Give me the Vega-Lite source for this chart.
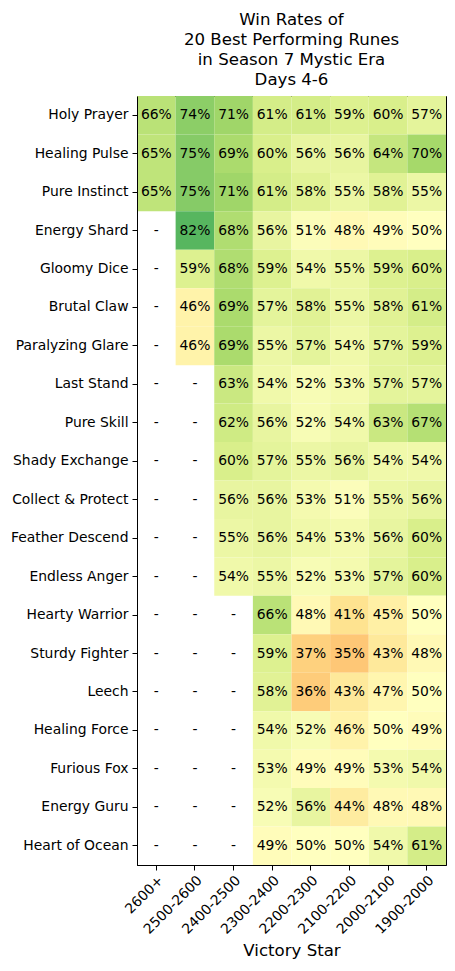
{
  "$schema": "https://vega.github.io/schema/vega-lite/v6.json",
  "autosize": {"type": "none"},
  "width": 309,
  "height": 769,
  "padding": {"left": 137, "top": 96, "right": 9, "bottom": 106},
  "background": "white",
  "title": {
    "text": ["Win Rates of", "20 Best Performing Runes", "in Season 7 Mystic Era", "Days 4-6"],
    "font": "DejaVu Sans",
    "fontSize": 16.6,
    "fontWeight": "normal",
    "lineHeight": 20.3,
    "color": "black",
    "anchor": "middle",
    "offset": 7
  },
  "data": {
    "values": [
      {"rune":"Holy Prayer","star":"2600+","v":0.66},{"rune":"Holy Prayer","star":"2500-2600","v":0.74},{"rune":"Holy Prayer","star":"2400-2500","v":0.71},{"rune":"Holy Prayer","star":"2300-2400","v":0.61},{"rune":"Holy Prayer","star":"2200-2300","v":0.61},{"rune":"Holy Prayer","star":"2100-2200","v":0.59},{"rune":"Holy Prayer","star":"2000-2100","v":0.60},{"rune":"Holy Prayer","star":"1900-2000","v":0.57},
      {"rune":"Healing Pulse","star":"2600+","v":0.65},{"rune":"Healing Pulse","star":"2500-2600","v":0.75},{"rune":"Healing Pulse","star":"2400-2500","v":0.69},{"rune":"Healing Pulse","star":"2300-2400","v":0.60},{"rune":"Healing Pulse","star":"2200-2300","v":0.56},{"rune":"Healing Pulse","star":"2100-2200","v":0.56},{"rune":"Healing Pulse","star":"2000-2100","v":0.64},{"rune":"Healing Pulse","star":"1900-2000","v":0.70},
      {"rune":"Pure Instinct","star":"2600+","v":0.65},{"rune":"Pure Instinct","star":"2500-2600","v":0.75},{"rune":"Pure Instinct","star":"2400-2500","v":0.71},{"rune":"Pure Instinct","star":"2300-2400","v":0.61},{"rune":"Pure Instinct","star":"2200-2300","v":0.58},{"rune":"Pure Instinct","star":"2100-2200","v":0.55},{"rune":"Pure Instinct","star":"2000-2100","v":0.58},{"rune":"Pure Instinct","star":"1900-2000","v":0.55},
      {"rune":"Energy Shard","star":"2600+","v":null},{"rune":"Energy Shard","star":"2500-2600","v":0.82},{"rune":"Energy Shard","star":"2400-2500","v":0.68},{"rune":"Energy Shard","star":"2300-2400","v":0.56},{"rune":"Energy Shard","star":"2200-2300","v":0.51},{"rune":"Energy Shard","star":"2100-2200","v":0.48},{"rune":"Energy Shard","star":"2000-2100","v":0.49},{"rune":"Energy Shard","star":"1900-2000","v":0.50},
      {"rune":"Gloomy Dice","star":"2600+","v":null},{"rune":"Gloomy Dice","star":"2500-2600","v":0.59},{"rune":"Gloomy Dice","star":"2400-2500","v":0.68},{"rune":"Gloomy Dice","star":"2300-2400","v":0.59},{"rune":"Gloomy Dice","star":"2200-2300","v":0.54},{"rune":"Gloomy Dice","star":"2100-2200","v":0.55},{"rune":"Gloomy Dice","star":"2000-2100","v":0.59},{"rune":"Gloomy Dice","star":"1900-2000","v":0.60},
      {"rune":"Brutal Claw","star":"2600+","v":null},{"rune":"Brutal Claw","star":"2500-2600","v":0.46},{"rune":"Brutal Claw","star":"2400-2500","v":0.69},{"rune":"Brutal Claw","star":"2300-2400","v":0.57},{"rune":"Brutal Claw","star":"2200-2300","v":0.58},{"rune":"Brutal Claw","star":"2100-2200","v":0.55},{"rune":"Brutal Claw","star":"2000-2100","v":0.58},{"rune":"Brutal Claw","star":"1900-2000","v":0.61},
      {"rune":"Paralyzing Glare","star":"2600+","v":null},{"rune":"Paralyzing Glare","star":"2500-2600","v":0.46},{"rune":"Paralyzing Glare","star":"2400-2500","v":0.69},{"rune":"Paralyzing Glare","star":"2300-2400","v":0.55},{"rune":"Paralyzing Glare","star":"2200-2300","v":0.57},{"rune":"Paralyzing Glare","star":"2100-2200","v":0.54},{"rune":"Paralyzing Glare","star":"2000-2100","v":0.57},{"rune":"Paralyzing Glare","star":"1900-2000","v":0.59},
      {"rune":"Last Stand","star":"2600+","v":null},{"rune":"Last Stand","star":"2500-2600","v":null},{"rune":"Last Stand","star":"2400-2500","v":0.63},{"rune":"Last Stand","star":"2300-2400","v":0.54},{"rune":"Last Stand","star":"2200-2300","v":0.52},{"rune":"Last Stand","star":"2100-2200","v":0.53},{"rune":"Last Stand","star":"2000-2100","v":0.57},{"rune":"Last Stand","star":"1900-2000","v":0.57},
      {"rune":"Pure Skill","star":"2600+","v":null},{"rune":"Pure Skill","star":"2500-2600","v":null},{"rune":"Pure Skill","star":"2400-2500","v":0.62},{"rune":"Pure Skill","star":"2300-2400","v":0.56},{"rune":"Pure Skill","star":"2200-2300","v":0.52},{"rune":"Pure Skill","star":"2100-2200","v":0.54},{"rune":"Pure Skill","star":"2000-2100","v":0.63},{"rune":"Pure Skill","star":"1900-2000","v":0.67},
      {"rune":"Shady Exchange","star":"2600+","v":null},{"rune":"Shady Exchange","star":"2500-2600","v":null},{"rune":"Shady Exchange","star":"2400-2500","v":0.60},{"rune":"Shady Exchange","star":"2300-2400","v":0.57},{"rune":"Shady Exchange","star":"2200-2300","v":0.55},{"rune":"Shady Exchange","star":"2100-2200","v":0.56},{"rune":"Shady Exchange","star":"2000-2100","v":0.54},{"rune":"Shady Exchange","star":"1900-2000","v":0.54},
      {"rune":"Collect & Protect","star":"2600+","v":null},{"rune":"Collect & Protect","star":"2500-2600","v":null},{"rune":"Collect & Protect","star":"2400-2500","v":0.56},{"rune":"Collect & Protect","star":"2300-2400","v":0.56},{"rune":"Collect & Protect","star":"2200-2300","v":0.53},{"rune":"Collect & Protect","star":"2100-2200","v":0.51},{"rune":"Collect & Protect","star":"2000-2100","v":0.55},{"rune":"Collect & Protect","star":"1900-2000","v":0.56},
      {"rune":"Feather Descend","star":"2600+","v":null},{"rune":"Feather Descend","star":"2500-2600","v":null},{"rune":"Feather Descend","star":"2400-2500","v":0.55},{"rune":"Feather Descend","star":"2300-2400","v":0.56},{"rune":"Feather Descend","star":"2200-2300","v":0.54},{"rune":"Feather Descend","star":"2100-2200","v":0.53},{"rune":"Feather Descend","star":"2000-2100","v":0.56},{"rune":"Feather Descend","star":"1900-2000","v":0.60},
      {"rune":"Endless Anger","star":"2600+","v":null},{"rune":"Endless Anger","star":"2500-2600","v":null},{"rune":"Endless Anger","star":"2400-2500","v":0.54},{"rune":"Endless Anger","star":"2300-2400","v":0.55},{"rune":"Endless Anger","star":"2200-2300","v":0.52},{"rune":"Endless Anger","star":"2100-2200","v":0.53},{"rune":"Endless Anger","star":"2000-2100","v":0.57},{"rune":"Endless Anger","star":"1900-2000","v":0.60},
      {"rune":"Hearty Warrior","star":"2600+","v":null},{"rune":"Hearty Warrior","star":"2500-2600","v":null},{"rune":"Hearty Warrior","star":"2400-2500","v":null},{"rune":"Hearty Warrior","star":"2300-2400","v":0.66},{"rune":"Hearty Warrior","star":"2200-2300","v":0.48},{"rune":"Hearty Warrior","star":"2100-2200","v":0.41},{"rune":"Hearty Warrior","star":"2000-2100","v":0.45},{"rune":"Hearty Warrior","star":"1900-2000","v":0.50},
      {"rune":"Sturdy Fighter","star":"2600+","v":null},{"rune":"Sturdy Fighter","star":"2500-2600","v":null},{"rune":"Sturdy Fighter","star":"2400-2500","v":null},{"rune":"Sturdy Fighter","star":"2300-2400","v":0.59},{"rune":"Sturdy Fighter","star":"2200-2300","v":0.37},{"rune":"Sturdy Fighter","star":"2100-2200","v":0.35},{"rune":"Sturdy Fighter","star":"2000-2100","v":0.43},{"rune":"Sturdy Fighter","star":"1900-2000","v":0.48},
      {"rune":"Leech","star":"2600+","v":null},{"rune":"Leech","star":"2500-2600","v":null},{"rune":"Leech","star":"2400-2500","v":null},{"rune":"Leech","star":"2300-2400","v":0.58},{"rune":"Leech","star":"2200-2300","v":0.36},{"rune":"Leech","star":"2100-2200","v":0.43},{"rune":"Leech","star":"2000-2100","v":0.47},{"rune":"Leech","star":"1900-2000","v":0.50},
      {"rune":"Healing Force","star":"2600+","v":null},{"rune":"Healing Force","star":"2500-2600","v":null},{"rune":"Healing Force","star":"2400-2500","v":null},{"rune":"Healing Force","star":"2300-2400","v":0.54},{"rune":"Healing Force","star":"2200-2300","v":0.52},{"rune":"Healing Force","star":"2100-2200","v":0.46},{"rune":"Healing Force","star":"2000-2100","v":0.50},{"rune":"Healing Force","star":"1900-2000","v":0.49},
      {"rune":"Furious Fox","star":"2600+","v":null},{"rune":"Furious Fox","star":"2500-2600","v":null},{"rune":"Furious Fox","star":"2400-2500","v":null},{"rune":"Furious Fox","star":"2300-2400","v":0.53},{"rune":"Furious Fox","star":"2200-2300","v":0.49},{"rune":"Furious Fox","star":"2100-2200","v":0.49},{"rune":"Furious Fox","star":"2000-2100","v":0.53},{"rune":"Furious Fox","star":"1900-2000","v":0.54},
      {"rune":"Energy Guru","star":"2600+","v":null},{"rune":"Energy Guru","star":"2500-2600","v":null},{"rune":"Energy Guru","star":"2400-2500","v":null},{"rune":"Energy Guru","star":"2300-2400","v":0.52},{"rune":"Energy Guru","star":"2200-2300","v":0.56},{"rune":"Energy Guru","star":"2100-2200","v":0.44},{"rune":"Energy Guru","star":"2000-2100","v":0.48},{"rune":"Energy Guru","star":"1900-2000","v":0.48},
      {"rune":"Heart of Ocean","star":"2600+","v":null},{"rune":"Heart of Ocean","star":"2500-2600","v":null},{"rune":"Heart of Ocean","star":"2400-2500","v":null},{"rune":"Heart of Ocean","star":"2300-2400","v":0.49},{"rune":"Heart of Ocean","star":"2200-2300","v":0.50},{"rune":"Heart of Ocean","star":"2100-2200","v":0.50},{"rune":"Heart of Ocean","star":"2000-2100","v":0.54},{"rune":"Heart of Ocean","star":"1900-2000","v":0.61}
    ]
  },
  "encoding": {
    "x": {
      "field": "star", "type": "nominal",
      "sort": ["2600+","2500-2600","2400-2500","2300-2400","2200-2300","2100-2200","2000-2100","1900-2000"],
      "scale": {"paddingInner": 0, "paddingOuter": 0},
      "axis": {"title": "Victory Star", "labelAngle": -45, "labelAlign": "right", "labelBaseline": "top", "labelPadding": 3, "titleFontSize": 16.6, "titleFontWeight": "normal", "titlePadding": 6}
    },
    "y": {
      "field": "rune", "type": "nominal",
      "sort": ["Holy Prayer","Healing Pulse","Pure Instinct","Energy Shard","Gloomy Dice","Brutal Claw","Paralyzing Glare","Last Stand","Pure Skill","Shady Exchange","Collect & Protect","Feather Descend","Endless Anger","Hearty Warrior","Sturdy Fighter","Leech","Healing Force","Furious Fox","Energy Guru","Heart of Ocean"],
      "scale": {"paddingInner": 0, "paddingOuter": 0},
      "axis": {"title": null, "labelPadding": 4}
    }
  },
  "layer": [
    {
      "transform": [{"filter": "datum.v != null"}],
      "mark": {"type": "rect", "strokeWidth": 0},
      "encoding": {
        "color": {
          "field": "v", "type": "quantitative", "legend": null,
          "scale": {
            "type": "linear",
            "domain": [0, 0.1, 0.2, 0.3, 0.4, 0.5, 0.6, 0.7, 0.8, 0.9, 1.0],
            "range": ["#a50026","#d73027","#f46d43","#fdae61","#fee08b","#ffffbf","#d9ef8b","#a6d96a","#66bd63","#1a9850","#006837"],
            "interpolate": "rgb"
          }
        }
      }
    },
    {
      "transform": [{"calculate": "datum.v == null ? '-' : format(datum.v, '.0%')", "as": "label"}],
      "mark": {"type": "text", "font": "DejaVu Sans", "fontSize": 13.9, "color": "black", "align": "center", "baseline": "middle"},
      "encoding": {"text": {"field": "label", "type": "nominal"}}
    }
  ],
  "config": {
    "font": "DejaVu Sans",
    "view": {"stroke": "black", "strokeWidth": 1},
    "axis": {
      "grid": false,
      "domainColor": "black",
      "tickColor": "black",
      "tickSize": 5,
      "labelColor": "black",
      "titleColor": "black",
      "labelFont": "DejaVu Sans",
      "titleFont": "DejaVu Sans",
      "labelFontSize": 13.9
    }
  }
}
